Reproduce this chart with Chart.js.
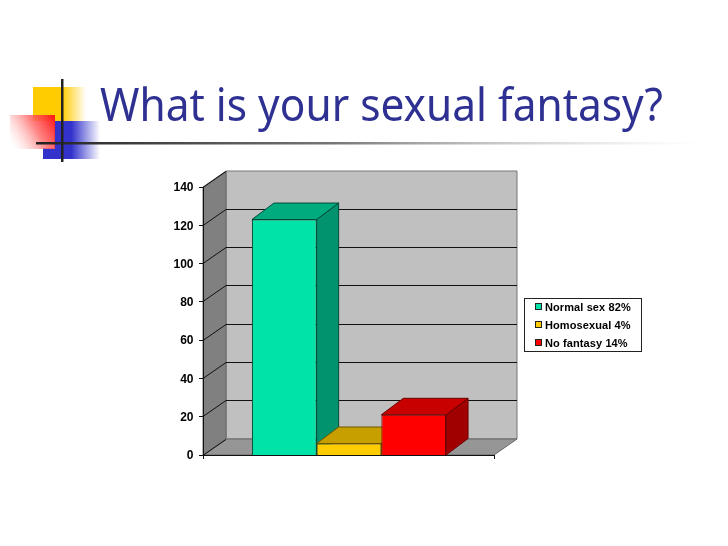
<!DOCTYPE html>
<html><head><meta charset="utf-8">
<script src="https://cdn.jsdelivr.net/npm/chart.js@4"></script>
<style>html,body{margin:0;padding:0;background:#fff}#w{position:absolute;left:0;top:0;width:728px;height:546px}</style>
</head><body><div id="w"><canvas id="c" width="728" height="546"></canvas></div>
<script>
const titleText = "What is your sexual fantasy?";
const categories = [""];
const seriesLabels = ["Normal sex 82%", "Homosexual 4%", "No fantasy 14%"];
const normalSex = [123];
const homosexual = [6];
const noFantasy = [21];
const faceColors = ["#00E3A8", "#FFCC00", "#FF0000"];
const topColors = ["#00AB7E", "#C7A000", "#C80000"];
const sideColors = ["#00936D", "#A88600", "#A00000"];
const edgeColors = ["#004A38", "#6B5500", "#6B0000"];
const DX = 23, DY = 16;

function poly(ctx, pts, fill, stroke) {
  ctx.beginPath();
  pts.forEach((p, i) => i ? ctx.lineTo(p[0], p[1]) : ctx.moveTo(p[0], p[1]));
  ctx.closePath();
  ctx.fillStyle = fill; ctx.fill();
  if (stroke) { ctx.strokeStyle = stroke; ctx.lineWidth = 1; ctx.stroke(); }
}
function fade(ctx, x0, y0, x1, y1, stops) {
  const g = ctx.createLinearGradient(x0, y0, x1, y1);
  stops.forEach(s => g.addColorStop(s[0], s[1]));
  return g;
}
const deco = {
  id: "deco",
  beforeDraw(chart) {
    const ctx = chart.ctx;
    ctx.save();
    ctx.fillStyle = "#fff"; ctx.fillRect(0, 0, 728, 546);
    // template ornament
    ctx.fillStyle = fade(ctx, 33, 0, 86, 0, [[0, "#FFCC00"], [0.55, "#FFCC00"], [1, "rgba(255,204,0,0)"]]);
    ctx.fillRect(33, 87, 53, 34);
    ctx.fillStyle = fade(ctx, 43, 0, 100, 0, [[0, "#3333CC"], [0.5, "#3333CC"], [1, "rgba(51,51,204,0)"]]);
    ctx.fillRect(43, 121, 57, 38);
    ctx.fillStyle = "#fff"; ctx.fillRect(33, 121, 21, 27);
    ctx.fillStyle = fade(ctx, 55, 115, 10, 142, [[0, "#FF1010"], [0.45, "rgba(255,110,110,0.85)"], [1, "rgba(255,200,200,0)"]]);
    ctx.fillRect(10, 115, 45, 34);
    ctx.fillStyle = fade(ctx, 36, 0, 700, 0, [[0, "#222"], [0.45, "#777"], [1, "rgba(200,200,200,0)"]]);
    ctx.fillRect(36, 142, 664, 2.5);
    ctx.fillStyle = "#222"; ctx.fillRect(61, 79, 2.5, 83);
    // title
    ctx.fillStyle = "#2E3192";
    ctx.font = '46px "Noto Sans"';
    ctx.textAlign = "left"; ctx.textBaseline = "alphabetic";
    ctx.fillText(titleText, 100, 121, 563);
    ctx.restore();
  },
  beforeDatasetsDraw(chart) {
    const ctx = chart.ctx, y = chart.scales.y, a = chart.chartArea;
    const L = Math.floor(a.left), R = Math.floor(a.right);
    const T = Math.floor(y.getPixelForValue(y.max)), B = Math.floor(y.getPixelForValue(0));
    ctx.save();
    poly(ctx, [[L + DX, T - DY], [R + DX, T - DY], [R + DX, B - DY], [L + DX, B - DY]], "#C0C0C0", "#777");
    poly(ctx, [[L, T], [L + DX, T - DY], [L + DX, B - DY], [L, B]], "#808080", "#666");
    poly(ctx, [[L, B], [L + DX, B - DY], [R + DX, B - DY], [R, B]], "#969696", "#666");
    ctx.lineWidth = 1; ctx.strokeStyle = "#111";
    y.ticks.forEach(t => {
      const p = Math.floor(y.getPixelForValue(t.value)) + 0.5;
      ctx.beginPath();
      ctx.moveTo(L - 4, p); ctx.lineTo(L, p); ctx.lineTo(L + DX, p - DY);
      if (t.value > 0 && t.value < y.max) ctx.lineTo(R + DX, p - DY);
      ctx.stroke();
    });
    // axis lines
    ctx.beginPath();
    ctx.moveTo(L + 0.5, T); ctx.lineTo(L + 0.5, B);
    ctx.moveTo(L, B + 0.5); ctx.lineTo(R, B + 0.5);
    ctx.moveTo(R + 0.5, B); ctx.lineTo(R + 0.5, B + 4);
    ctx.moveTo(L + 0.5, B); ctx.lineTo(L + 0.5, B + 4);
    ctx.stroke();
    // 3D sides and tops of each bar, from the library's own bar elements
    chart.data.datasets.forEach((ds, i) => {
      chart.getDatasetMeta(i).data.forEach(b => {
        const l = b.x - b.width / 2, r = b.x + b.width / 2, t = b.y, bo = b.base;
        const d = DX - 1, h = DY + 0.5;
        poly(ctx, [[r, t], [r + d, t - h], [r + d, bo - h], [r, bo]], sideColors[i], edgeColors[i]);
        poly(ctx, [[l, t], [l + d, t - h], [r + d, t - h], [r, t]], topColors[i], edgeColors[i]);
      });
    });
    ctx.restore();
  },
  afterDraw(chart) {
    const ctx = chart.ctx;
    ctx.save();
    ctx.fillStyle = "#fff"; ctx.strokeStyle = "#222"; ctx.lineWidth = 1;
    ctx.fillRect(525, 298, 116, 54);
    ctx.strokeRect(524.5, 298.5, 117, 53);
    ctx.font = 'bold 11px "Liberation Sans"';
    ctx.letterSpacing = "0.1px";
    ctx.textBaseline = "middle"; ctx.textAlign = "left";
    chart.data.datasets.forEach((ds, i) => {
      const yy = 307 + i * 18;
      ctx.fillStyle = faceColors[i]; ctx.strokeStyle = "#222";
      ctx.fillRect(535, yy - 3, 6, 6);
      ctx.strokeRect(535.5, yy - 3.5, 6, 6);
      ctx.fillStyle = "#000";
      ctx.fillText(ds.label, 545, yy + 0.5);
    });
    ctx.restore();
  }
};
new Chart(document.getElementById("c"), {
  type: "bar",
  data: {
    labels: categories,
    datasets: [
      { label: seriesLabels[0], data: normalSex, backgroundColor: faceColors[0], borderColor: edgeColors[0], borderWidth: 1 },
      { label: seriesLabels[1], data: homosexual, backgroundColor: faceColors[1], borderColor: edgeColors[1], borderWidth: 1 },
      { label: seriesLabels[2], data: noFantasy, backgroundColor: faceColors[2], borderColor: edgeColors[2], borderWidth: 1 }
    ]
  },
  options: {
    responsive: false, animation: false, devicePixelRatio: 1,
    layout: { padding: { left: 153.5, right: 233.5, top: 187, bottom: 91 } },
    plugins: { legend: { display: false }, tooltip: { enabled: false }, title: { display: false } },
    datasets: { bar: { categoryPercentage: 0.667, barPercentage: 1 } },
    scales: {
      x: { display: false, grid: { display: false }, ticks: { display: false } },
      y: {
        min: 0, max: 140,
        afterFit(s) { s.width = 50; },
        border: { display: false },
        grid: { display: false, drawTicks: false },
        ticks: { stepSize: 20, padding: 10, labelOffset: 1, color: "#000", font: { family: "Liberation Sans", size: 12, weight: "bold" } }
      }
    }
  },
  plugins: [deco]
});
</script></body></html>
